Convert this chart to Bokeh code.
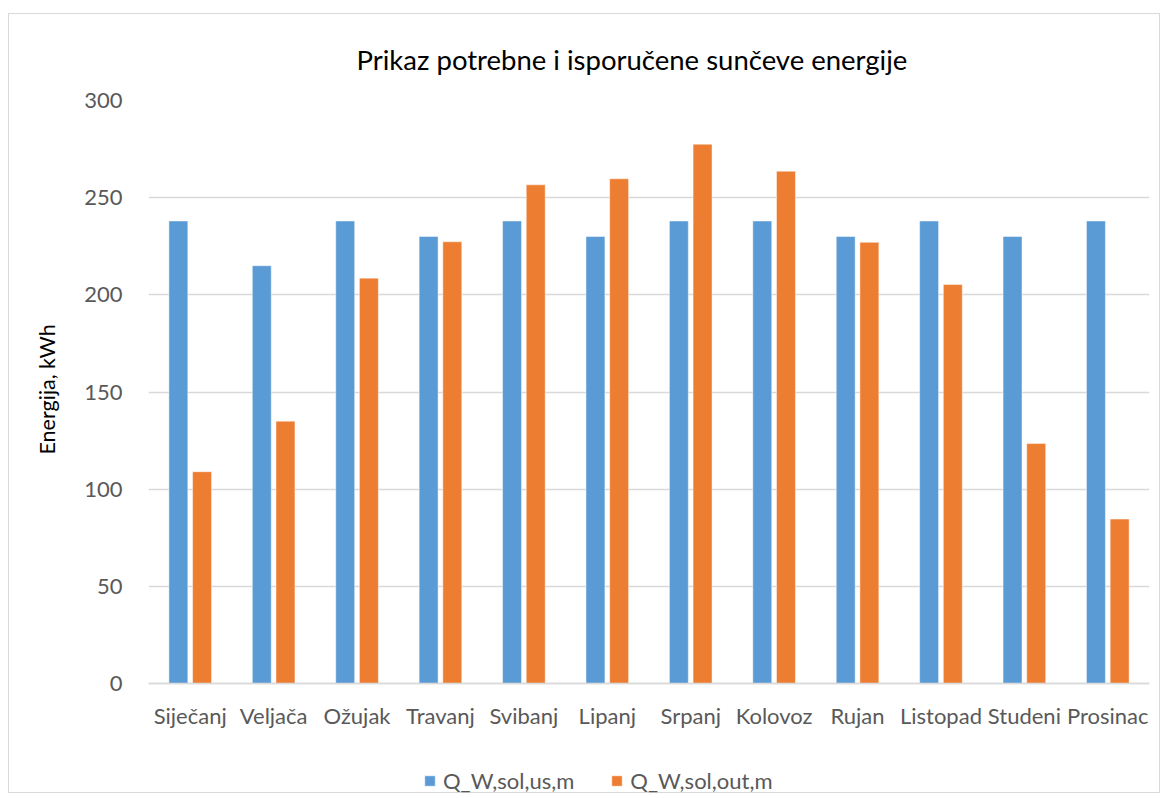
from bokeh.plotting import figure
from bokeh.models import ColumnDataSource, FactorRange, Range1d, Legend, LegendItem, Title
from bokeh.transform import dodge
from bokeh.embed import file_html
from bokeh.resources import INLINE

months = ["Siječanj", "Veljača", "Ožujak", "Travanj", "Svibanj", "Lipanj",
          "Srpanj", "Kolovoz", "Rujan", "Listopad", "Studeni", "Prosinac"]
q_us = [238, 215, 238, 230, 238, 230, 238, 238, 230, 238, 230, 238]
q_out = [109, 135, 208.6, 227.3, 256.6, 259.7, 277.5, 263.6, 227, 205.3, 123.5, 84.6]
series_names = ["Q_W,sol,us,m", "Q_W,sol,out,m"]
y_ticks = [0, 50, 100, 150, 200, 250, 300]

FONT = "Lato"
src = ColumnDataSource(dict(month=months, us=q_us, out=q_out))

# frame extends below 0 so the legend (drawn inside the frame) is not clipped
p = figure(x_range=FactorRange(*months), y_range=Range1d(-57.1, 300),
           width=1152, height=780, output_backend="svg", toolbar_location=None,
           min_border_left=138, min_border_right=12, min_border_top=86, min_border_bottom=0,
           styles={"margin-top": "13px", "margin-left": "8px", "border": "1px solid #d9d9d9"})

p.title.text = "Prikaz potrebne i isporučene sunčeve energije"
p.title.align = "left"
p.title.offset = 208
p.title.text_font = FONT
p.title.text_font_size = "27.5px"
p.title.text_font_style = "normal"
p.title.text_color = "#000000"
p.title.standoff = 50

r1 = p.vbar(x=dodge("month", -0.142, range=p.x_range), top="us", width=0.227, source=src,
            fill_color="#5B9BD5", line_color="#ffffff", line_alpha=0.45, line_width=1)
r2 = p.vbar(x=dodge("month", 0.142, range=p.x_range), top="out", width=0.227, source=src,
            fill_color="#ED7D31", line_color="#ffffff", line_alpha=0.45, line_width=1)

p.outline_line_color = None
p.xgrid.grid_line_color = None
p.ygrid.grid_line_color = "#d9d9d9"
p.ygrid.grid_line_width = 1.3
p.yaxis.ticker = y_ticks
p.yaxis.axis_line_color = None
p.yaxis.major_tick_line_color = None
p.yaxis.minor_tick_line_color = None
p.yaxis.major_label_text_font = FONT
p.yaxis.major_label_text_font_size = "22px"
p.yaxis.major_label_text_color = "#595959"
p.yaxis.major_label_standoff = 20

ylab = Title(text="Energija, kWh", align="left", offset=340, standoff=44,
             text_font=FONT, text_font_size="21.5px", text_font_style="normal",
             text_color="#000000")
p.add_layout(ylab, "left")

p.xaxis.fixed_location = 0
p.xaxis.axis_line_color = "#d9d9d9"
p.xaxis.axis_line_width = 1.3
p.xaxis.major_tick_line_color = None
p.xaxis.minor_tick_line_color = None
p.xaxis.major_label_text_font = FONT
p.xaxis.major_label_text_font_size = "22px"
p.xaxis.major_label_text_color = "#595959"
p.xaxis.major_label_standoff = 12
p.x_range.range_padding = 0
p.x_range.group_padding = 0

legend = Legend(items=[LegendItem(label=series_names[0], renderers=[r1]),
                       LegendItem(label=series_names[1], renderers=[r2])],
                orientation="horizontal", location=(275, 0),
                label_text_font=FONT, label_text_font_size="22px", label_text_color="#595959",
                glyph_width=13, glyph_height=13, spacing=36, label_standoff=7,
                border_line_color=None, background_fill_alpha=0, margin=0, padding=0)
p.add_layout(legend, "center")

open("out.html", "w").write(file_html(p, INLINE))
